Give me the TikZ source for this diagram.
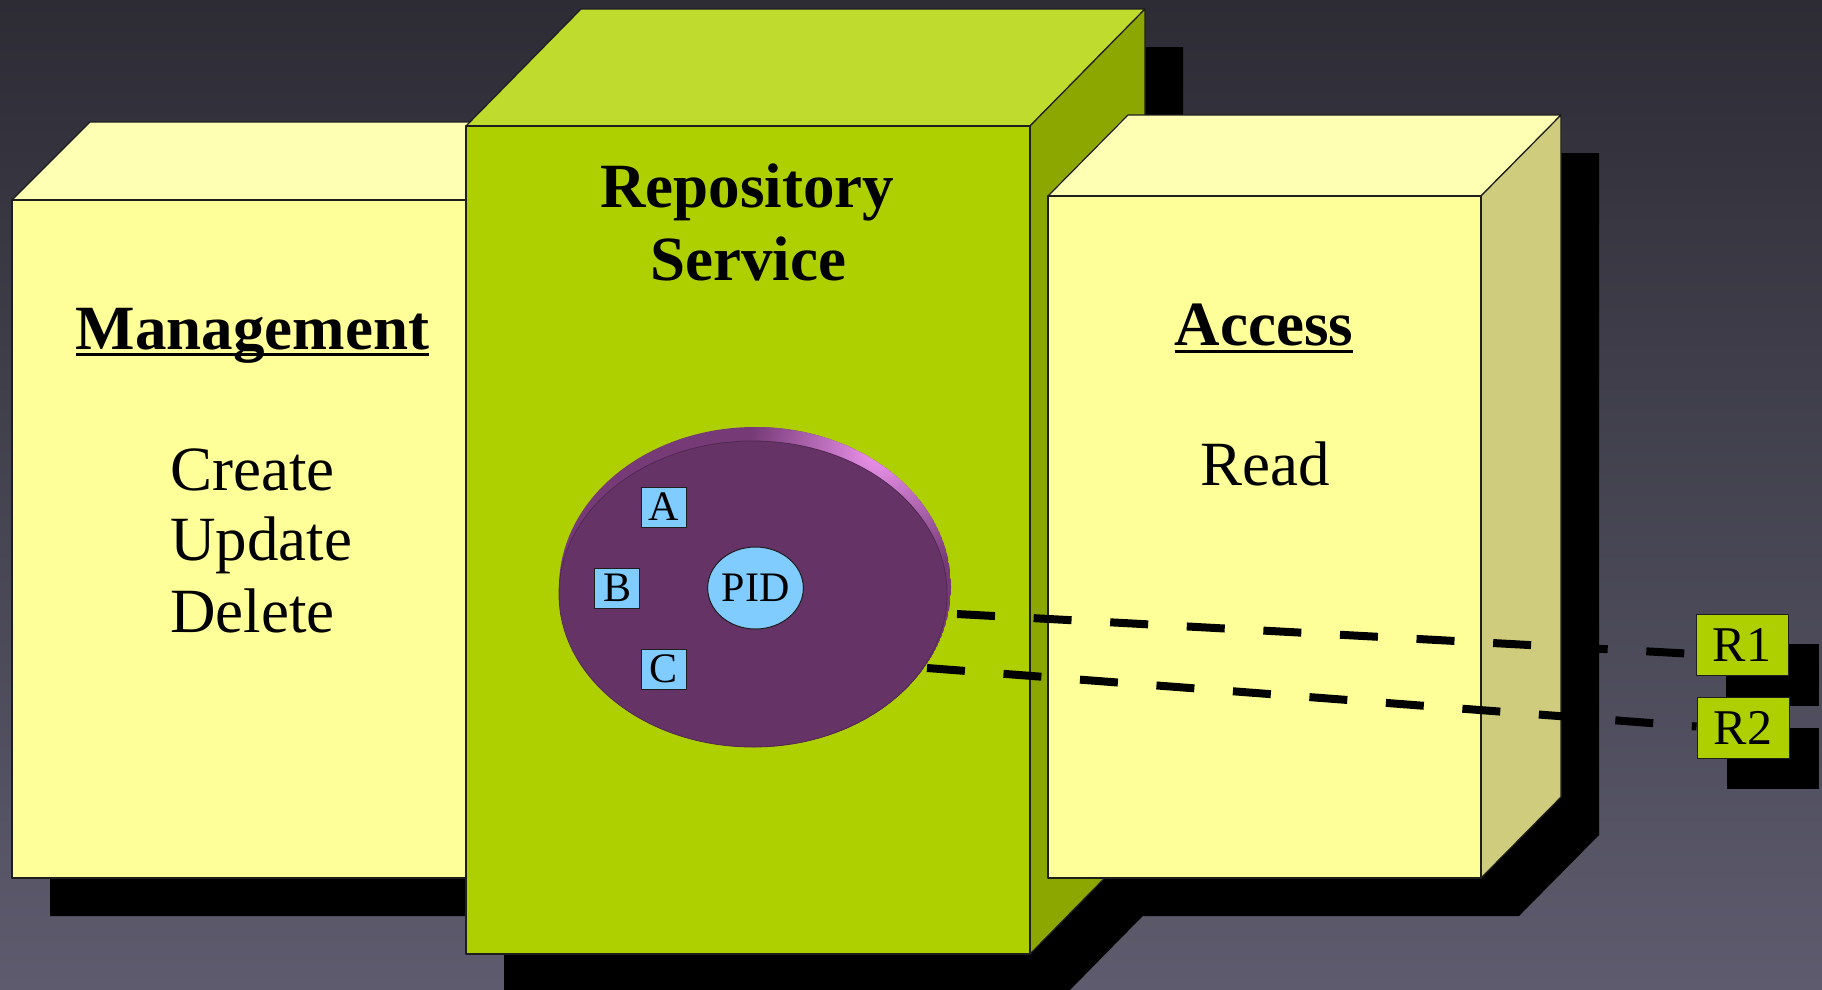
\documentclass[tikz,border=0pt]{standalone}
\usepackage{fontspec}
\setmainfont{Liberation Serif}
\usetikzlibrary{shapes.geometric}

\definecolor{bgtop}{HTML}{2D2C35}
\definecolor{bgbot}{HTML}{5D5B6D}
\definecolor{ylfront}{HTML}{FFFF99}
\definecolor{yltop}{HTML}{FFFFB3}
\definecolor{ylside}{HTML}{CFCC7E}
\definecolor{grfront}{HTML}{AFD000}
\definecolor{grtop}{HTML}{BEDB2E}
\definecolor{grside}{HTML}{8CA800}
\definecolor{diskface}{HTML}{663366}
\definecolor{rimbase}{HTML}{763A76}
\definecolor{rimlight}{HTML}{F096F0}
\definecolor{tagblue}{HTML}{80CCFF}
\definecolor{edge}{HTML}{1E1E1E}

\begin{document}
\begin{tikzpicture}[x=1pt,y=-1pt,
  face/.style={draw=edge,line width=1.2pt,line join=round},
  dropshadow/.style={fill=black},
  title/.style={inner sep=0pt,anchor=base,font=\fontsize{63}{70}\selectfont\bfseries},
  label/.style={inner sep=0pt,font=\fontsize{63}{70}\selectfont},
  tag/.style={draw=edge,line width=1pt,fill=tagblue,inner sep=0pt,
    minimum width=45pt,minimum height=40pt,font=\fontsize{42}{42}\selectfont},
  rtag/.style={draw=edge,line width=1pt,fill=grfront,inner sep=0pt,
    minimum width=92pt,minimum height=61pt,font=\fontsize{50}{50}\selectfont},
  link/.style={draw=black,line width=8pt,dash pattern=on 38pt off 38.7pt},
  uline/.style={draw=black,line width=3pt}]

\useasboundingbox (0,0) rectangle (1822,989);
\clip (0,0) rectangle (1822,989);

% backdrop
\shade[top color=bgtop,bottom color=bgbot] (0,0) rectangle (1822,989);

% drop shadows of the three blocks
\fill[dropshadow] (50,238) -- (128,160) -- (582,160) -- (582,838) -- (504,916) -- (50,916) -- cycle;
\fill[dropshadow] (504,164) -- (619,47) -- (1183,47) -- (1183,875) -- (1068,992) -- (504,992) -- cycle;
\fill[dropshadow] (1086,234) -- (1166,153) -- (1599,153) -- (1599,835) -- (1519,916) -- (1086,916) -- cycle;
% drop shadows of the reference tags
\fill[dropshadow] (1726,644) rectangle (1819,706);
\fill[dropshadow] (1727,728) rectangle (1819,789);

% Management block
\filldraw[face,fill=yltop] (12,200) -- (90,122) -- (544,122) -- (466,200) -- cycle;
\filldraw[face,fill=ylside] (466,200) -- (544,122) -- (544,800) -- (466,878) -- cycle;
\filldraw[face,fill=ylfront] (12,200) rectangle (466,878);

% Repository Service block
\filldraw[face,fill=grtop] (466,126) -- (581,9) -- (1145,9) -- (1030,126) -- cycle;
\filldraw[face,fill=grside] (1030,126) -- (1145,9) -- (1145,837) -- (1030,954) -- cycle;
\filldraw[face,fill=grfront] (466,126) rectangle (1030,954);

% Access block
\filldraw[face,fill=yltop] (1048,196) -- (1128,115) -- (1561,115) -- (1481,196) -- cycle;
\filldraw[face,fill=ylside] (1481,196) -- (1561,115) -- (1561,797) -- (1481,878) -- cycle;
\filldraw[face,fill=ylfront] (1048,196) rectangle (1481,878);

% the object disk: rim with a highlight at the upper right, then the face
\begin{scope}
  \clip (755,587) ellipse [x radius=196pt,y radius=160pt];
  \fill[rimbase] (755,587) ellipse [x radius=196pt,y radius=160pt];
  \shade[inner color=rimlight,outer color=rimbase] (880,450) circle (130pt);
\end{scope}
\fill[diskface] (753,594) ellipse [x radius=194pt,y radius=153pt];
\draw[diskface!80!black,line width=0.8pt] (753,594) ellipse [x radius=194pt,y radius=153pt];

% block titles and operations
\node[title] (mgmt) at (252.5,349) {Management};
\draw[uline] ([yshift=-5pt]mgmt.base west) -- ([yshift=-5pt]mgmt.base east);
\node[label,anchor=base west] (create) at (170,490) {Create};
\node[label,anchor=base west] (update) at (170,560) {Update};
\node[label,anchor=base west] (delete) at (170,632) {Delete};

\node[title] (repo1) at (747,207) {Repository};
\node[title] (repo2) at (748,280) {Service};

\node[title] (access) at (1264,345) {Access};
\draw[uline] ([yshift=-6pt]access.base west) -- ([yshift=-6pt]access.base east);
\node[label,anchor=base] (read) at (1265,485) {Read};

% datastreams and identifier
\node[tag] (A) at (663.5,507) {A};
\node[tag] (B) at (617,588) {B};
\node[tag] (C) at (663.5,669) {C};
\node[draw=edge,line width=1pt,fill=tagblue,ellipse,inner sep=0pt,
  minimum width=91pt,minimum height=82pt,font=\fontsize{42}{42}\selectfont] (pid) at (755.5,588) {PID};

% external references
\node[rtag] (R1) at (1742,644.5) {R1};
\node[rtag] (R2) at (1743,728) {R2};

\coordinate (l1s) at (957,614);
\coordinate (l2s) at (927,668);
\draw[link] (l1s) -- ([yshift=-9.5pt]R1.west);
\draw[link] (l2s) -- ([yshift=1.5pt]R2.west);

\end{tikzpicture}
\end{document}
